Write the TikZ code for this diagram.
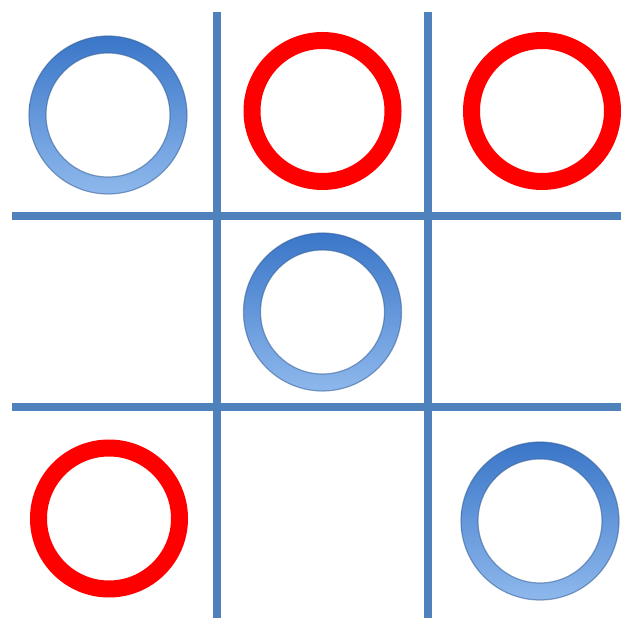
\documentclass[tikz,border=0pt]{standalone}
\usepackage{xcolor}
\definecolor{gridblue}{HTML}{4F81BD}
\definecolor{ringtop}{RGB}{58,118,200}
\definecolor{ringbottom}{RGB}{142,184,236}
\definecolor{ringedge}{RGB}{52,94,150}

\begin{document}
\begin{tikzpicture}[x=1pt, y=1pt,
        gridline/.style={gridblue, line width=8pt},
        noughtred/.style={red, line width=17pt},
        noughtblue/.style={top color=ringtop, bottom color=ringbottom, even odd rule},
        noughtedge/.style={ringedge, line width=1.2pt, opacity=0.55}]
        \useasboundingbox (0,0) rectangle (621,618);

        % Centres of the cells that hold a nought
        \coordinate (c11) at (108,503);
        \coordinate (c12) at (322.5,507);
        \coordinate (c13) at (542,507);
        \coordinate (c22) at (322.5,306);
        \coordinate (c31) at (109,99.5);
        \coordinate (c33) at (540,97);

        % Draw the grid
        \draw[gridline] (217,606) -- (217,0);
        \draw[gridline] (428,606) -- (428,0);
        \draw[gridline] (12,402) -- (621,402);
        \draw[gridline] (12,211) -- (621,211);

        % Draw the blue noughts
        \foreach \c in {c11,c22,c33} {
            \shade[noughtblue] (\c) circle (79) (\c) circle (62);
            \draw[noughtedge] (\c) circle (79) (\c) circle (62);
        }

        % Draw the red noughts
        \foreach \c in {c12,c13,c31}
            \draw[noughtred] (\c) circle (70.5);
    \end{tikzpicture}
\end{document}
